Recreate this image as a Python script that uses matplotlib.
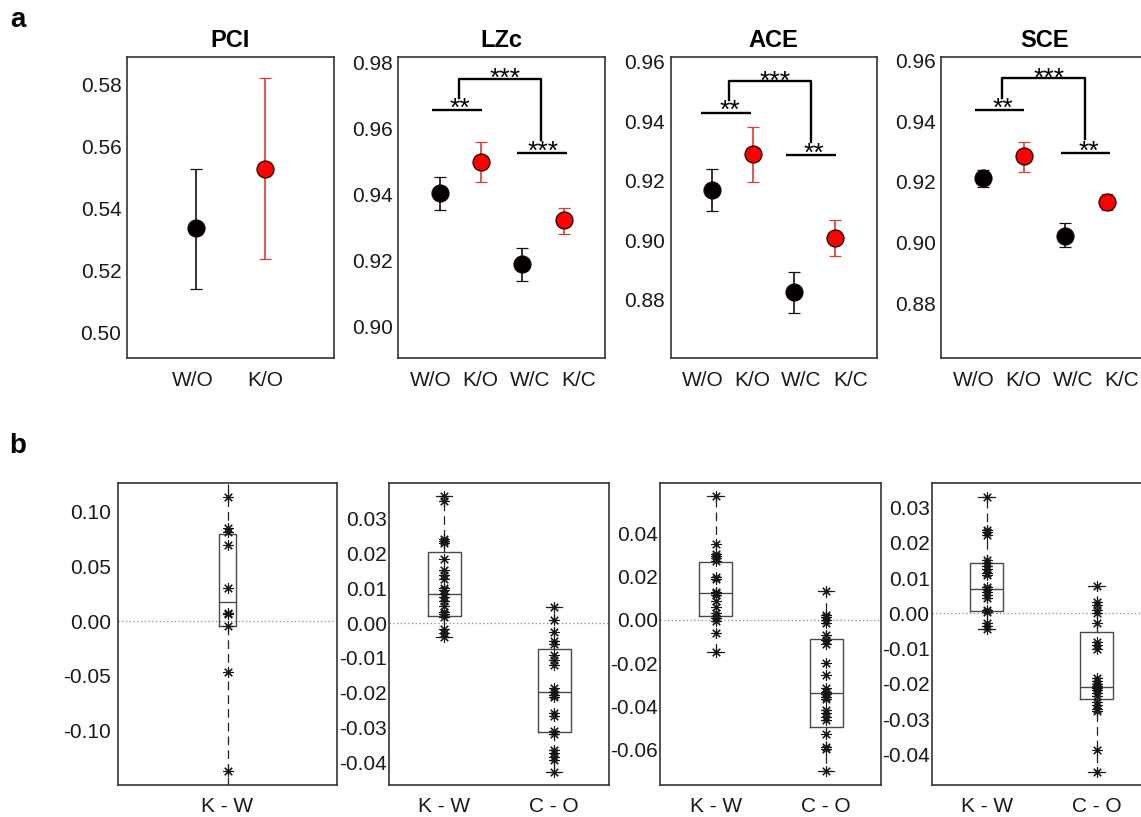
import matplotlib
matplotlib.use('Agg')
import matplotlib.pyplot as plt
import numpy as np
from matplotlib.ticker import FormatStrFormatter

plt.rcParams['font.family'] = ['Liberation Sans', 'DejaVu Sans']
plt.rcParams['axes.unicode_minus'] = False

# ---------------- panel a data ----------------
groups2 = ['W/O', 'K/O']
groups4 = ['W/O', 'K/O', 'W/C', 'K/C']
group_is_k = [False, True, False, True]

pci_mean = [0.5337, 0.5529]
pci_lo = [0.5140, 0.5236]
pci_hi = [0.5529, 0.5821]

lzc_mean = [0.9405, 0.9498, 0.9189, 0.9322]
lzc_lo = [0.9352, 0.9438, 0.9138, 0.9282]
lzc_hi = [0.9453, 0.9559, 0.9239, 0.9360]

ace_mean = [0.9169, 0.9290, 0.8826, 0.9009]
ace_lo = [0.9099, 0.9197, 0.8755, 0.8948]
ace_hi = [0.9239, 0.9380, 0.8895, 0.9068]

sce_mean = [0.9213, 0.9286, 0.9023, 0.9135]
sce_lo = [0.9183, 0.9234, 0.8984, 0.9106]
sce_hi = [0.9240, 0.9333, 0.9064, 0.9160]

# significance: pairs (x0, x1, y, label, text_x); cross (xl, xr, ytop, yl, yr, label, text_x)
lzc_pairs = [(0.82, 2.03, 0.9654, '**', 1.50), (2.86, 4.07, 0.9525, '***', 3.50)]
lzc_cross = (1.46, 3.46, 0.9750, 0.9693, 0.9566, '***', 2.58)
ace_pairs = [(0.74, 1.95, 0.9429, '**', 1.45), (2.81, 4.02, 0.9287, '**', 3.47)]
ace_cross = (1.42, 3.40, 0.9535, 0.9471, 0.9331, '***', 2.55)
sce_pairs = [(0.81, 2.01, 0.9438, '**', 1.50), (2.89, 4.08, 0.9296, '**', 3.57)]
sce_cross = (1.455, 3.47, 0.9542, 0.9477, 0.9342, '***', 2.60)

# ---------------- panel b data ----------------
diff_labels = ['K - W', 'C - O']

pci_kw = [0.1127, 0.0844, 0.0813, 0.0692, 0.0298, 0.0076, 0.0061, -0.0046, -0.0462, -0.1364]
pci_box = (-0.0043, 0.0176, 0.0792)          # q1, median, q3
pci_whisker = (-0.16, 0.14)

lzc_kw = [0.0366, 0.0352, 0.0243, 0.0237, 0.0230, 0.0185, 0.0153, 0.0138, 0.0127, 0.0100,
          0.0095, 0.0084, 0.0074, 0.0064, 0.0049, 0.0033, 0.0025, 0.0018, -0.0018, -0.0029, -0.0041]
lzc_co = [0.0046, 0.0010, -0.0027, -0.0053, -0.0059, -0.0092, -0.0106, -0.0121, -0.0188, -0.0198,
          -0.0207, -0.0212, -0.0260, -0.0267, -0.0310, -0.0318, -0.0364, -0.0375, -0.0385, -0.0394, -0.0428]
lzc_box_kw = (0.0021, 0.0083, 0.0205)
lzc_box_co = (-0.0314, -0.0197, -0.0075)

ace_kw = [0.0572, 0.0351, 0.0305, 0.0295, 0.0285, 0.0274, 0.0197, 0.0188, 0.0131, 0.0123,
          0.0115, 0.0089, 0.0062, 0.0034, 0.0018, 0.0008, -0.0003, -0.0062, -0.0146]
ace_co = [0.0134, 0.0023, 0.0012, 0.0000, -0.0012, -0.0069, -0.0092, -0.0112, -0.0200, -0.0254,
          -0.0315, -0.0331, -0.0342, -0.0354, -0.0366, -0.0416, -0.0431, -0.0449, -0.0462, -0.0526,
          -0.0585, -0.0597, -0.0696]
ace_box_kw = (0.0020, 0.0126, 0.0269)
ace_box_co = (-0.0493, -0.0336, -0.0089)

sce_kw = [0.0331, 0.0238, 0.0232, 0.0222, 0.0151, 0.0142, 0.0134, 0.0125, 0.0115, 0.0109,
          0.0075, 0.0068, 0.0061, 0.0052, 0.0045, 0.0009, 0.0005, -0.0028, -0.0035, -0.0043]
sce_co = [0.0078, 0.0033, 0.0024, 0.0009, 0.0002, -0.0026, -0.0081, -0.0090, -0.0102, -0.0184,
          -0.0191, -0.0199, -0.0206, -0.0213, -0.0218, -0.0227, -0.0235, -0.0251, -0.0260, -0.0270,
          -0.0276, -0.0388, -0.0449]
sce_box_kw = (0.0007, 0.0069, 0.0142)
sce_box_co = (-0.0244, -0.0210, -0.0052)

# ---------------- figure ----------------
W, H = 1141, 817
fig = plt.figure(figsize=(W / 100, H / 100), dpi=100)

SPINE = '#333333'
TICK_FS = 15


def style_axes(ax, ypad):
    for s in ax.spines.values():
        s.set_color(SPINE)
        s.set_linewidth(1.2)
    ax.tick_params(axis='both', length=0, labelsize=TICK_FS, colors='#1a1a1a')
    ax.tick_params(axis='y', pad=ypad)
    ax.tick_params(axis='x', pad=9)
    ax.yaxis.set_major_formatter(FormatStrFormatter('%.2f'))


def px_axes(left, top, right, bottom):
    return fig.add_axes([left / W, 1 - bottom / H, (right - left) / W, (bottom - top) / H])


def draw_means(ax, mean, lo, hi):
    for i, (m, l, h) in enumerate(zip(mean, lo, hi)):
        k = group_is_k[i]
        ax.errorbar([i + 1], [m], yerr=[[m - l], [h - m]], fmt='o', ms=12.2,
                    mfc='#ff0000' if k else 'black', mec='#1a0000', mew=0.9,
                    ecolor='#e23a32' if k else '#111111', elinewidth=1.2,
                    capsize=4, capthick=1.2, zorder=3)


def draw_sig(ax, pairs, cross):
    lw = 1.7
    for x0, x1, y, lab, tx in pairs:
        ax.plot([x0, x1], [y, y], color='black', lw=lw, solid_capstyle='butt')
        ax.annotate(lab, xy=(tx, y), xytext=(0, -4.0), textcoords='offset points',
                    ha='center', va='baseline', fontsize=19)
    xl, xr, yt, yl, yr, lab, tx = cross
    ax.plot([xl, xl, xr, xr], [yl, yt, yt, yr], color='black', lw=lw)
    ax.annotate(lab, xy=(tx, yt), xytext=(0, -5.5), textcoords='offset points',
                ha='center', va='baseline', fontsize=19)


# top row
top_y0, top_y1 = 56.5, 358.3
axes_a = [
    ('PCI', (127.0, 334.0), pci_mean, pci_lo, pci_hi, (0.4916, 0.5892), groups2, None, None),
    ('LZc', (398.3, 605.0), lzc_mean, lzc_lo, lzc_hi, (0.8905, 0.9817), groups4, lzc_pairs, lzc_cross),
    ('ACE', (670.5, 876.6), ace_mean, ace_lo, ace_hi, (0.8604, 0.9617), groups4, ace_pairs, ace_cross),
    ('SCE', (941.4, 1148.0), sce_mean, sce_lo, sce_hi, (0.8618, 0.9614), groups4, sce_pairs, sce_cross),
]
for title, (xl, xr), mean, lo, hi, ylim, labs, pairs, cross in axes_a:
    ax = px_axes(xl, top_y0, xr, top_y1)
    n = len(mean)
    draw_means(ax, mean, lo, hi)
    if pairs is not None:
        draw_sig(ax, pairs, cross)
    ax.set_xlim(0, n + 1)
    ax.set_ylim(*ylim)
    yt = np.round(np.arange(np.ceil(ylim[0] * 50) / 50, ylim[1], 0.02), 2)
    ax.set_yticks(yt)
    if n == 2:
        ax.set_xticks([0.95, 2.0])
    else:
        ax.set_xticks([0.78, 1.99, 3.18, 4.36])
    ax.set_xticklabels(labs)
    ax.set_title(title, fontsize=17, fontweight='bold', pad=7)
    style_axes(ax, 4)

# bottom row
bot_y0, bot_y1 = 482.7, 785.0
STAR = (8, 2, 0)


def draw_boxes(ax, datasets, boxes, whiskers, positions, width):
    stats = []
    for d, b, w in zip(datasets, boxes, whiskers):
        wl, wh = w if w is not None else (min(d), max(d))
        stats.append(dict(q1=b[0], med=b[1], q3=b[2], whislo=wl, whishi=wh, fliers=[]))
    ax.bxp(stats, positions=positions, widths=width, showfliers=False,
           boxprops=dict(color='#4a4a4a', lw=1.0),
           medianprops=dict(color='#4a4a4a', lw=1.0),
           whiskerprops=dict(color='#222222', lw=0.9, ls=(0, (7, 4))),
           capprops=dict(color='#222222', lw=0.9), manage_ticks=False)
    for p, d in zip(positions, datasets):
        ax.plot([p] * len(d), d, ls='none', marker=STAR, ms=7.5, mew=0.8,
                color='#151515', zorder=4)


axes_b = [
    ((117.6, 337.4), [pci_kw], [pci_box], [pci_whisker], (-0.1494, 0.126),
     [-0.10, -0.05, 0.00, 0.05, 0.10], [1], (0.5, 1.5), 0.075, 5),
    ((389.2, 609.0), [lzc_kw, lzc_co], [lzc_box_kw, lzc_box_co], [None, None], (-0.0466, 0.0404),
     [-0.04, -0.03, -0.02, -0.01, 0.00, 0.01, 0.02, 0.03], [1, 2], (0.5, 2.5), 0.3, 1.5),
    ((660.3, 881.4), [ace_kw, ace_co], [ace_box_kw, ace_box_co], [None, None], (-0.0762, 0.0634),
     [-0.06, -0.04, -0.02, 0.00, 0.02, 0.04], [1, 2], (0.5, 2.5), 0.3, 1.5),
    ((931.7, 1151.5), [sce_kw, sce_co], [sce_box_kw, sce_box_co], [None, None], (-0.0487, 0.0371),
     [-0.04, -0.03, -0.02, -0.01, 0.00, 0.01, 0.02, 0.03], [1, 2], (0.5, 2.5), 0.3, 1.5),
]
for (xl, xr), data, boxes, whisk, ylim, yt, pos, xlim, bw, ypad in axes_b:
    ax = px_axes(xl, bot_y0, xr, bot_y1)
    ax.axhline(0, color='#8a8a8a', lw=0.9, ls=(0, (1, 2)), zorder=1)
    draw_boxes(ax, data, boxes, whisk, pos, bw)
    ax.set_xlim(*xlim)
    ax.set_ylim(*ylim)
    ax.set_yticks(yt)
    ax.set_xticks(pos)
    ax.set_xticklabels(diff_labels[:len(pos)])
    style_axes(ax, ypad)

fig.text(18 / W, 1 - 20 / H, 'a', fontsize=20, fontweight='bold', ha='center', va='center')
fig.text(18 / W, 1 - 446 / H, 'b', fontsize=20, fontweight='bold', ha='center', va='center')

fig.savefig('out.png', dpi=100, facecolor='white')
